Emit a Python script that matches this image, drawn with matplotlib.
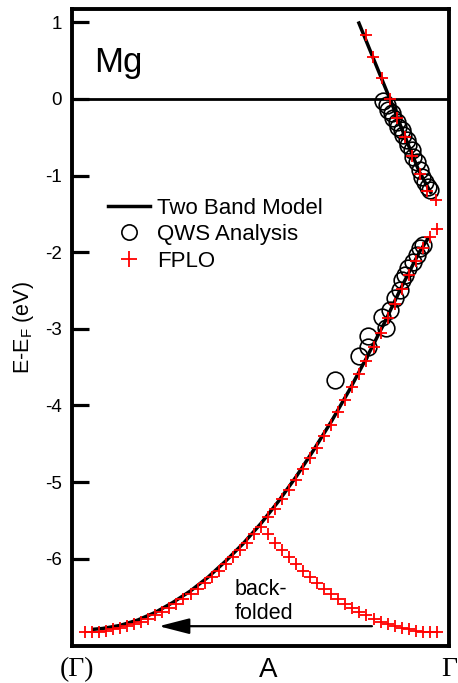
import matplotlib
matplotlib.use("Agg")
import matplotlib.pyplot as plt
from matplotlib.lines import Line2D

plt.rcParams["font.family"] = ["Liberation Sans", "DejaVu Sans"]
plt.rcParams["axes.unicode_minus"] = False
plt.rcParams["mathtext.default"] = "regular"

# k runs (Γ) = 0 -> A = 1 -> Γ = 2
# FPLO lower band, main branch
k_fplo = [0.00, 0.04, 0.08, 0.12, 0.16, 0.20, 0.24, 0.28, 0.32, 0.36,
          0.40, 0.44, 0.48, 0.52, 0.56, 0.60, 0.64, 0.68, 0.72, 0.76,
          0.80, 0.84, 0.88, 0.92, 0.96, 1.00, 1.04, 1.08, 1.12, 1.16,
          1.20, 1.24, 1.28, 1.32, 1.36, 1.40, 1.44, 1.48, 1.52, 1.56,
          1.60, 1.64, 1.68, 1.72, 1.76, 1.80, 1.84, 1.88, 1.92, 1.96, 2.00]
e_fplo = [-6.96, -6.96, -6.95, -6.94, -6.92, -6.90, -6.88, -6.85, -6.82, -6.78,
          -6.74, -6.69, -6.64, -6.59, -6.53, -6.46, -6.39, -6.32, -6.24, -6.16,
          -6.07, -5.98, -5.89, -5.79, -5.68, -5.58, -5.46, -5.35, -5.22, -5.10,
          -4.97, -4.83, -4.69, -4.55, -4.40, -4.25, -4.09, -3.93, -3.76, -3.59,
          -3.42, -3.24, -3.05, -2.86, -2.67, -2.48, -2.30, -2.12, -1.95, -1.80, -1.70]

# FPLO lower band, back-folded branch
k_fold = [1.04, 1.08, 1.12, 1.16, 1.20, 1.24, 1.28, 1.32, 1.36, 1.40,
          1.44, 1.48, 1.52, 1.56, 1.60, 1.64, 1.68, 1.72, 1.76, 1.80,
          1.84, 1.88, 1.92, 1.96, 2.00]
e_fold = [-5.68, -5.79, -5.89, -5.98, -6.07, -6.16, -6.24, -6.32, -6.39, -6.46,
          -6.53, -6.59, -6.64, -6.69, -6.74, -6.78, -6.82, -6.85, -6.88, -6.90,
          -6.92, -6.94, -6.95, -6.96, -6.96]

# FPLO upper band
k_fplo_up = [1.600, 1.638, 1.686, 1.733, 1.775, 1.818, 1.860, 1.903, 1.945, 1.993]
e_fplo_up = [0.83, 0.55, 0.27, 0.00, -0.25, -0.50, -0.75, -0.98, -1.20, -1.32]

# QWS analysis
k_qws = [1.693, 1.716, 1.722, 1.744, 1.750, 1.773, 1.778, 1.801, 1.807, 1.830,
         1.835, 1.858, 1.864, 1.886, 1.903, 1.915, 1.932, 1.949, 1.960,
         1.420, 1.557, 1.608, 1.608, 1.710, 1.688, 1.733, 1.761, 1.790, 1.801,
         1.818, 1.835, 1.864, 1.886, 1.903, 1.920]
e_qws = [-0.03, -0.08, -0.14, -0.18, -0.25, -0.30, -0.37, -0.40, -0.47, -0.54,
         -0.60, -0.67, -0.76, -0.82, -0.93, -1.02, -1.08, -1.15, -1.19,
         -3.67, -3.36, -3.24, -3.09, -2.99, -2.85, -2.75, -2.60, -2.49, -2.36,
         -2.30, -2.21, -2.13, -2.04, -1.95, -1.91]

# two band model
k_model_low = [0.05, 0.10, 0.20, 0.30, 0.40, 0.50, 0.60, 0.70, 0.80, 0.90, 1.00,
               1.10, 1.20, 1.30, 1.40, 1.50, 1.60, 1.70, 1.80, 1.90, 1.95]
e_model_low = [-6.92, -6.91, -6.87, -6.80, -6.70, -6.57, -6.42, -6.24, -6.03, -5.80, -5.54,
               -5.25, -4.93, -4.58, -4.21, -3.81, -3.38, -2.93, -2.45, -2.00, -1.82]
k_model_up = [1.557, 1.733, 1.820, 1.900, 1.965]
e_model_up = [0.99, 0.00, -0.50, -0.95, -1.22]

xtick_pos = [-0.045, 1.04, 2.068]
xtick_labels = ["(Γ)", "A", "Γ"]

fig = plt.figure(figsize=(4.58, 6.83), dpi=100)
ax = fig.add_axes([0.157, 0.054, 0.823, 0.933])

ax.axhline(0, color="black", lw=2.0, zorder=1)
ax.plot(k_model_low, e_model_low, color="black", lw=2.5, zorder=2)
ax.plot(k_model_up, e_model_up, color="black", lw=2.5, zorder=2)
ax.plot(k_qws, e_qws, ls="none", marker="o", ms=12, mfc="none", mec="black",
        mew=1.2, zorder=3)
for kk, ee in [(k_fplo, e_fplo), (k_fold, e_fold), (k_fplo_up, e_fplo_up)]:
    ax.plot(kk, ee, ls="none", marker="+", ms=8, mec="red", mew=1.3, zorder=4)

# arrow for the back-folded branch
ax.annotate("", xy=(0.42, -6.88), xytext=(1.631, -6.88),
            arrowprops=dict(arrowstyle="-|>,head_length=1.87,head_width=0.48",
                            mutation_scale=10, lw=1.6, color="black",
                            shrinkA=0, shrinkB=0))
ax.text(0.852, -6.79, "back-\nfolded", fontsize=15.5, ha="left", va="baseline",
        linespacing=1.2)

ax.text(0.054, 0.35, "Mg", fontsize=25, ha="left", va="baseline")

handles = [
    Line2D([], [], color="black", lw=2.5),
    Line2D([], [], ls="none", marker="o", ms=11, mfc="none", mec="black", mew=1.2),
    Line2D([], [], ls="none", marker="+", ms=11, mec="red", mew=1.3),
]
ax.legend(handles, ["Two Band Model", "QWS Analysis", "FPLO"],
          loc="upper left", bbox_to_anchor=(0.0955, 0.704), frameon=False,
          fontsize=16, handlelength=1.89, handletextpad=0.32,
          labelspacing=0.25, borderpad=0, borderaxespad=0)

ax.set_xlim(-0.074, 2.068)
ax.set_ylim(-7.14, 1.175)
ax.set_yticks(range(-6, 2))
ax.set_xticks(xtick_pos)
ax.set_xticklabels(xtick_labels)
ax.tick_params(axis="y", direction="in", length=12, width=2.3, labelsize=13.5, pad=7)
ax.tick_params(axis="x", length=0, labelsize=20, pad=8)
for lbl in ax.get_xticklabels():
    if "Γ" in lbl.get_text():
        lbl.set_fontfamily("Liberation Serif")

for sp in ax.spines.values():
    sp.set_linewidth(2.8)

ax.set_ylabel("E-E$_F$ (eV)", fontsize=15.5)
ax.yaxis.set_label_coords(-0.096, 0.5)

fig.savefig("out.png", dpi=100)
